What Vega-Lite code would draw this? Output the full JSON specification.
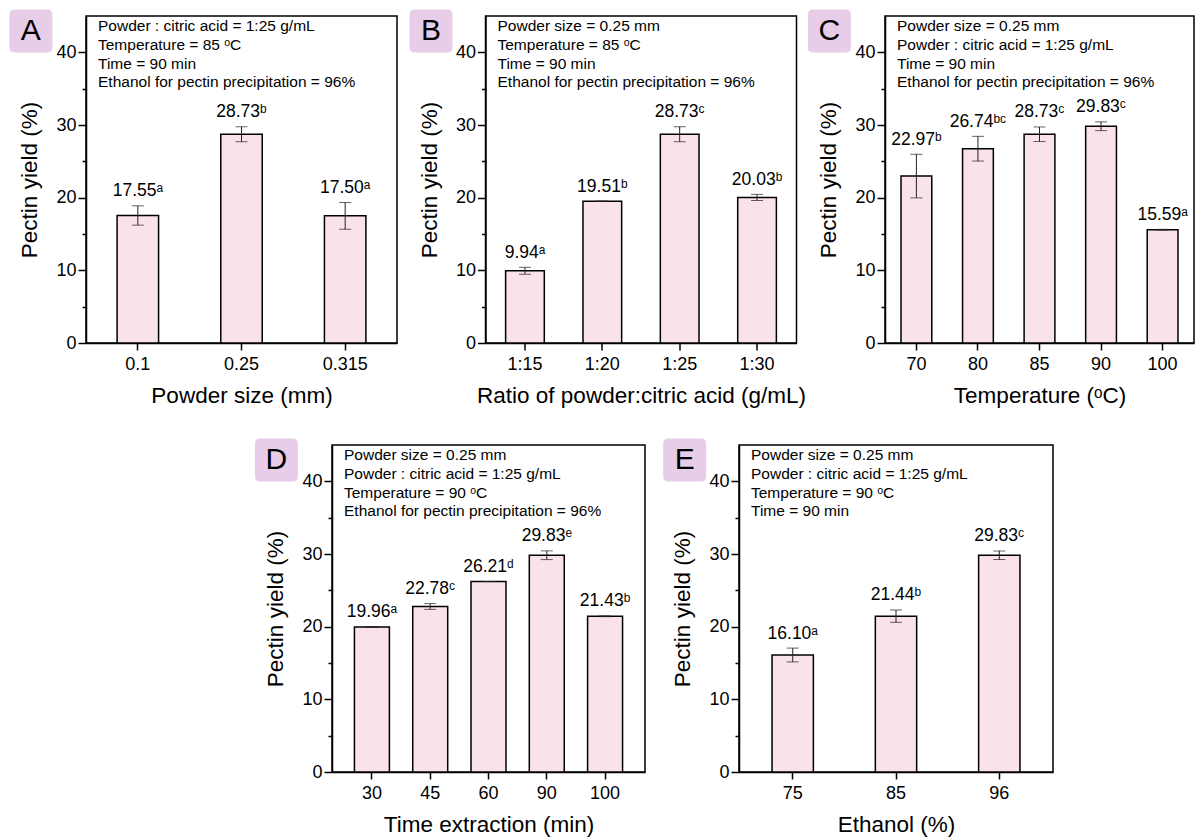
{
  "$schema": "https://vega.github.io/schema/vega-lite/v6.json",
  "background": "white",
  "padding": {"left": 8, "top": 8, "right": 0, "bottom": 0},
  "datasets": {
    "A": [
      {"cat": "0.1", "yield": 17.55, "lo": 16.22, "hi": 18.88, "label": "17.55ᵃ"},
      {"cat": "0.25", "yield": 28.73, "lo": 27.7, "hi": 29.76, "label": "28.73ᵇ"},
      {"cat": "0.315", "yield": 17.5, "lo": 15.65, "hi": 19.35, "label": "17.50ᵃ"}
    ],
    "B": [
      {"cat": "1:15", "yield": 9.94, "lo": 9.46, "hi": 10.42, "label": "9.94ᵃ"},
      {"cat": "1:20", "yield": 19.51, "lo": 19.51, "hi": 19.51, "label": "19.51ᵇ"},
      {"cat": "1:25", "yield": 28.73, "lo": 27.7, "hi": 29.76, "label": "28.73ᶜ"},
      {"cat": "1:30", "yield": 20.03, "lo": 19.61, "hi": 20.45, "label": "20.03ᵇ"}
    ],
    "C": [
      {"cat": "70", "yield": 22.97, "lo": 19.97, "hi": 25.97, "label": "22.97ᵇ"},
      {"cat": "80", "yield": 26.74, "lo": 25.04, "hi": 28.44, "label": "26.74ᵇᶜ"},
      {"cat": "85", "yield": 28.73, "lo": 27.73, "hi": 29.73, "label": "28.73ᶜ"},
      {"cat": "90", "yield": 29.83, "lo": 29.23, "hi": 30.43, "label": "29.83ᶜ"},
      {"cat": "100", "yield": 15.59, "lo": 15.54, "hi": 15.64, "label": "15.59ᵃ"}
    ],
    "D": [
      {"cat": "30", "yield": 19.96, "lo": 19.96, "hi": 19.96, "label": "19.96ᵃ"},
      {"cat": "45", "yield": 22.78, "lo": 22.38, "hi": 23.18, "label": "22.78ᶜ"},
      {"cat": "60", "yield": 26.21, "lo": 26.21, "hi": 26.21, "label": "26.21ᵈ"},
      {"cat": "90", "yield": 29.83, "lo": 29.23, "hi": 30.43, "label": "29.83ᵉ"},
      {"cat": "100", "yield": 21.43, "lo": 21.38, "hi": 21.48, "label": "21.43ᵇ"}
    ],
    "E": [
      {"cat": "75", "yield": 16.1, "lo": 15.15, "hi": 17.05, "label": "16.10ᵃ"},
      {"cat": "85", "yield": 21.44, "lo": 20.6, "hi": 22.3, "label": "21.44ᵇ"},
      {"cat": "96", "yield": 29.83, "lo": 29.23, "hi": 30.43, "label": "29.83ᶜ"}
    ],
    "letters": [{"letter": "A"}, {"letter": "B"}, {"letter": "C"}, {"letter": "D"}, {"letter": "E"}]
  },
  "config": {
    "font": "Liberation Sans",
    "view": {"stroke": "black", "strokeWidth": 1.5},
    "axis": {"domainColor": "black", "domainWidth": 1.5, "tickColor": "black", "tickWidth": 1.5, "labelColor": "black", "titleColor": "black", "labelFontSize": 18, "titleFontSize": 22.5, "titleFontWeight": "normal", "grid": false, "labelFont": "Liberation Sans", "titleFont": "Liberation Sans"},
    "axisX": {"labelAngle": 0, "tickSize": 7, "labelPadding": 5, "titlePadding": 11},
    "axisY": {"titlePadding": 14, "labelPadding": 2},
    "title": {"anchor": "start", "frame": "group", "offset": -81.4, "dx": 12, "baseline": "top", "fontSize": 15.5, "fontWeight": "normal", "lineHeight": 18.7, "font": "Liberation Sans", "color": "black"},
    "text": {"font": "Liberation Sans", "color": "black"}
  },
  "bounds": "flush",
  "spacing": 429,
  "vconcat": [
    {
      "bounds": "flush",
      "spacing": 88.5,
      "hconcat": [
        {
          "width": 311, "height": 327,
          "title": {"text": ["Powder : citric acid = 1:25 g/mL", "Temperature = 85 ᵒC", "Time = 90 min", "Ethanol for pectin precipitation = 96%"]},
          "data": {"name": "A"},
          "encoding": {"x": {"field": "cat", "type": "nominal", "title": "Powder size (mm)", "scale": {"domain": ["0.1", "0.25", "0.315"], "paddingInner": 0.6, "paddingOuter": 0.3}}},
          "layer": [
            {"mark": {"type": "bar", "fill": "#fae2ea", "stroke": "black", "strokeWidth": 1.5}, "encoding": {"y": {"field": "yield", "type": "quantitative", "title": "Pectin yield (%)", "scale": {"domain": [0, 45], "nice": false}, "axis": {"values": [0, 5, 10, 15, 20, 25, 30, 35, 40], "labelExpr": "datum.value % 10 === 0 ? datum.label : ''", "tickSize": {"condition": {"test": "datum.value % 10 === 0", "value": 8}, "value": 4}}}}},
            {"mark": {"type": "rule", "color": "#222", "strokeWidth": 1}, "encoding": {"y": {"field": "lo", "type": "quantitative", "title": "Pectin yield (%)"}, "y2": {"field": "hi"}}},
            {"mark": {"type": "tick", "color": "#222", "size": 12, "thickness": 1}, "encoding": {"y": {"field": "hi", "type": "quantitative", "title": "Pectin yield (%)"}}},
            {"mark": {"type": "tick", "color": "#222", "size": 12, "thickness": 1}, "encoding": {"y": {"field": "lo", "type": "quantitative", "title": "Pectin yield (%)"}}},
            {"mark": {"type": "text", "dy": -9.5, "baseline": "alphabetic", "fontSize": 17.5}, "encoding": {"y": {"field": "hi", "type": "quantitative", "title": "Pectin yield (%)"}, "text": {"field": "label"}}},
            {"data": {"name": "letters"}, "transform": [{"filter": "datum.letter === 'A'"}], "mark": {"type": "point", "shape": "M -1 -0.75 Q -1 -1 -0.75 -1 L 0.75 -1 Q 1 -1 1 -0.75 L 1 0.75 Q 1 1 0.75 1 L -0.75 1 Q -1 1 -1 0.75 Z", "size": 1849, "filled": true, "fill": "#e8cde8", "opacity": 1, "strokeWidth": 0, "xOffset": -107, "yOffset": 15, "clip": false}, "encoding": {"x": {"datum": "0.1", "title": "Powder size (mm)"}, "y": {"datum": 45, "title": "Pectin yield (%)"}}},
            {"data": {"name": "letters"}, "transform": [{"filter": "datum.letter === 'A'"}], "mark": {"type": "text", "fontSize": 30, "xOffset": -107, "yOffset": 15, "baseline": "middle", "align": "center"}, "encoding": {"x": {"datum": "0.1", "title": "Powder size (mm)"}, "y": {"datum": 45, "title": "Pectin yield (%)"}, "text": {"field": "letter"}}}
          ]
        },
        {
          "width": 311, "height": 327,
          "title": {"text": ["Powder size = 0.25 mm", "Temperature = 85 ᵒC", "Time = 90 min", "Ethanol for pectin precipitation = 96%"]},
          "data": {"name": "B"},
          "encoding": {"x": {"field": "cat", "type": "nominal", "title": "Ratio of powder:citric acid (g/mL)", "scale": {"domain": ["1:15", "1:20", "1:25", "1:30"], "paddingInner": 0.5, "paddingOuter": 0.26}}},
          "layer": [
            {"mark": {"type": "bar", "fill": "#fae2ea", "stroke": "black", "strokeWidth": 1.5}, "encoding": {"y": {"field": "yield", "type": "quantitative", "title": "Pectin yield (%)", "scale": {"domain": [0, 45], "nice": false}, "axis": {"values": [0, 5, 10, 15, 20, 25, 30, 35, 40], "labelExpr": "datum.value % 10 === 0 ? datum.label : ''", "tickSize": {"condition": {"test": "datum.value % 10 === 0", "value": 8}, "value": 4}}}}},
            {"mark": {"type": "rule", "color": "#222", "strokeWidth": 1}, "encoding": {"y": {"field": "lo", "type": "quantitative", "title": "Pectin yield (%)"}, "y2": {"field": "hi"}}},
            {"mark": {"type": "tick", "color": "#222", "size": 12, "thickness": 1}, "encoding": {"y": {"field": "hi", "type": "quantitative", "title": "Pectin yield (%)"}}},
            {"mark": {"type": "tick", "color": "#222", "size": 12, "thickness": 1}, "encoding": {"y": {"field": "lo", "type": "quantitative", "title": "Pectin yield (%)"}}},
            {"mark": {"type": "text", "dy": -9.5, "baseline": "alphabetic", "fontSize": 17.5}, "encoding": {"y": {"field": "hi", "type": "quantitative", "title": "Pectin yield (%)"}, "text": {"field": "label"}}},
            {"data": {"name": "letters"}, "transform": [{"filter": "datum.letter === 'B'"}], "mark": {"type": "point", "shape": "M -1 -0.75 Q -1 -1 -0.75 -1 L 0.75 -1 Q 1 -1 1 -0.75 L 1 0.75 Q 1 1 0.75 1 L -0.75 1 Q -1 1 -1 0.75 Z", "size": 1849, "filled": true, "fill": "#e8cde8", "opacity": 1, "strokeWidth": 0, "xOffset": -94, "yOffset": 15, "clip": false}, "encoding": {"x": {"datum": "1:15", "title": "Ratio of powder:citric acid (g/mL)"}, "y": {"datum": 45, "title": "Pectin yield (%)"}}},
            {"data": {"name": "letters"}, "transform": [{"filter": "datum.letter === 'B'"}], "mark": {"type": "text", "fontSize": 30, "xOffset": -94, "yOffset": 15, "baseline": "middle", "align": "center"}, "encoding": {"x": {"datum": "1:15", "title": "Ratio of powder:citric acid (g/mL)"}, "y": {"datum": 45, "title": "Pectin yield (%)"}, "text": {"field": "letter"}}}
          ]
        },
        {
          "width": 309, "height": 327,
          "title": {"text": ["Powder size = 0.25 mm", "Powder : citric acid = 1:25 g/mL", "Time = 90 min", "Ethanol for pectin precipitation = 96%"]},
          "data": {"name": "C"},
          "encoding": {"x": {"field": "cat", "type": "nominal", "title": "Temperature (ᵒC)", "scale": {"domain": ["70", "80", "85", "90", "100"], "paddingInner": 0.5, "paddingOuter": 0.26}}},
          "layer": [
            {"mark": {"type": "bar", "fill": "#fae2ea", "stroke": "black", "strokeWidth": 1.5}, "encoding": {"y": {"field": "yield", "type": "quantitative", "title": "Pectin yield (%)", "scale": {"domain": [0, 45], "nice": false}, "axis": {"values": [0, 5, 10, 15, 20, 25, 30, 35, 40], "labelExpr": "datum.value % 10 === 0 ? datum.label : ''", "tickSize": {"condition": {"test": "datum.value % 10 === 0", "value": 8}, "value": 4}}}}},
            {"mark": {"type": "rule", "color": "#222", "strokeWidth": 1}, "encoding": {"y": {"field": "lo", "type": "quantitative", "title": "Pectin yield (%)"}, "y2": {"field": "hi"}}},
            {"mark": {"type": "tick", "color": "#222", "size": 12, "thickness": 1}, "encoding": {"y": {"field": "hi", "type": "quantitative", "title": "Pectin yield (%)"}}},
            {"mark": {"type": "tick", "color": "#222", "size": 12, "thickness": 1}, "encoding": {"y": {"field": "lo", "type": "quantitative", "title": "Pectin yield (%)"}}},
            {"mark": {"type": "text", "dy": -9.5, "baseline": "alphabetic", "fontSize": 17.5}, "encoding": {"y": {"field": "hi", "type": "quantitative", "title": "Pectin yield (%)"}, "text": {"field": "label"}}},
            {"data": {"name": "letters"}, "transform": [{"filter": "datum.letter === 'C'"}], "mark": {"type": "point", "shape": "M -1 -0.75 Q -1 -1 -0.75 -1 L 0.75 -1 Q 1 -1 1 -0.75 L 1 0.75 Q 1 1 0.75 1 L -0.75 1 Q -1 1 -1 0.75 Z", "size": 1849, "filled": true, "fill": "#e8cde8", "opacity": 1, "strokeWidth": 0, "xOffset": -87, "yOffset": 15, "clip": false}, "encoding": {"x": {"datum": "70", "title": "Temperature (ᵒC)"}, "y": {"datum": 45, "title": "Pectin yield (%)"}}},
            {"data": {"name": "letters"}, "transform": [{"filter": "datum.letter === 'C'"}], "mark": {"type": "text", "fontSize": 30, "xOffset": -87, "yOffset": 15, "baseline": "middle", "align": "center"}, "encoding": {"x": {"datum": "70", "title": "Temperature (ᵒC)"}, "y": {"datum": 45, "title": "Pectin yield (%)"}, "text": {"field": "letter"}}}
          ]
        }
      ]
    },
    {
      "bounds": "flush",
      "spacing": 94,
      "hconcat": [
        {"width": 152, "height": 327, "data": {"values": [{}]}, "mark": {"type": "point", "opacity": 0}, "encoding": {}, "view": {"stroke": null}},
        {
          "width": 313, "height": 327,
          "title": {"text": ["Powder size = 0.25 mm", "Powder : citric acid = 1:25 g/mL", "Temperature = 90 ᵒC", "Ethanol for pectin precipitation = 96%"]},
          "data": {"name": "D"},
          "encoding": {"x": {"field": "cat", "type": "nominal", "title": "Time extraction (min)", "scale": {"domain": ["30", "45", "60", "90", "100"], "paddingInner": 0.4, "paddingOuter": 0.385}}},
          "layer": [
            {"mark": {"type": "bar", "fill": "#fae2ea", "stroke": "black", "strokeWidth": 1.5}, "encoding": {"y": {"field": "yield", "type": "quantitative", "title": "Pectin yield (%)", "scale": {"domain": [0, 45], "nice": false}, "axis": {"values": [0, 5, 10, 15, 20, 25, 30, 35, 40], "labelExpr": "datum.value % 10 === 0 ? datum.label : ''", "tickSize": {"condition": {"test": "datum.value % 10 === 0", "value": 8}, "value": 4}}}}},
            {"mark": {"type": "rule", "color": "#222", "strokeWidth": 1}, "encoding": {"y": {"field": "lo", "type": "quantitative", "title": "Pectin yield (%)"}, "y2": {"field": "hi"}}},
            {"mark": {"type": "tick", "color": "#222", "size": 12, "thickness": 1}, "encoding": {"y": {"field": "hi", "type": "quantitative", "title": "Pectin yield (%)"}}},
            {"mark": {"type": "tick", "color": "#222", "size": 12, "thickness": 1}, "encoding": {"y": {"field": "lo", "type": "quantitative", "title": "Pectin yield (%)"}}},
            {"mark": {"type": "text", "dy": -9.5, "baseline": "alphabetic", "fontSize": 17.5}, "encoding": {"y": {"field": "hi", "type": "quantitative", "title": "Pectin yield (%)"}, "text": {"field": "label"}}},
            {"data": {"name": "letters"}, "transform": [{"filter": "datum.letter === 'D'"}], "mark": {"type": "point", "shape": "M -1 -0.75 Q -1 -1 -0.75 -1 L 0.75 -1 Q 1 -1 1 -0.75 L 1 0.75 Q 1 1 0.75 1 L -0.75 1 Q -1 1 -1 0.75 Z", "size": 1849, "filled": true, "fill": "#e8cde8", "opacity": 1, "strokeWidth": 0, "xOffset": -95.5, "yOffset": 15, "clip": false}, "encoding": {"x": {"datum": "30", "title": "Time extraction (min)"}, "y": {"datum": 45, "title": "Pectin yield (%)"}}},
            {"data": {"name": "letters"}, "transform": [{"filter": "datum.letter === 'D'"}], "mark": {"type": "text", "fontSize": 30, "xOffset": -95.5, "yOffset": 15, "baseline": "middle", "align": "center"}, "encoding": {"x": {"datum": "30", "title": "Time extraction (min)"}, "y": {"datum": 45, "title": "Pectin yield (%)"}, "text": {"field": "letter"}}}
          ]
        },
        {
          "width": 314, "height": 327,
          "title": {"text": ["Powder size = 0.25 mm", "Powder : citric acid = 1:25 g/mL", "Temperature = 90 ᵒC", "Time = 90 min"]},
          "data": {"name": "E"},
          "encoding": {"x": {"field": "cat", "type": "nominal", "title": "Ethanol (%)", "scale": {"domain": ["75", "85", "96"], "paddingInner": 0.6, "paddingOuter": 0.32}}},
          "layer": [
            {"mark": {"type": "bar", "fill": "#fae2ea", "stroke": "black", "strokeWidth": 1.5}, "encoding": {"y": {"field": "yield", "type": "quantitative", "title": "Pectin yield (%)", "scale": {"domain": [0, 45], "nice": false}, "axis": {"values": [0, 5, 10, 15, 20, 25, 30, 35, 40], "labelExpr": "datum.value % 10 === 0 ? datum.label : ''", "tickSize": {"condition": {"test": "datum.value % 10 === 0", "value": 8}, "value": 4}}}}},
            {"mark": {"type": "rule", "color": "#222", "strokeWidth": 1}, "encoding": {"y": {"field": "lo", "type": "quantitative", "title": "Pectin yield (%)"}, "y2": {"field": "hi"}}},
            {"mark": {"type": "tick", "color": "#222", "size": 12, "thickness": 1}, "encoding": {"y": {"field": "hi", "type": "quantitative", "title": "Pectin yield (%)"}}},
            {"mark": {"type": "tick", "color": "#222", "size": 12, "thickness": 1}, "encoding": {"y": {"field": "lo", "type": "quantitative", "title": "Pectin yield (%)"}}},
            {"mark": {"type": "text", "dy": -9.5, "baseline": "alphabetic", "fontSize": 17.5}, "encoding": {"y": {"field": "hi", "type": "quantitative", "title": "Pectin yield (%)"}, "text": {"field": "label"}}},
            {"data": {"name": "letters"}, "transform": [{"filter": "datum.letter === 'E'"}], "mark": {"type": "point", "shape": "M -1 -0.75 Q -1 -1 -0.75 -1 L 0.75 -1 Q 1 -1 1 -0.75 L 1 0.75 Q 1 1 0.75 1 L -0.75 1 Q -1 1 -1 0.75 Z", "size": 1849, "filled": true, "fill": "#e8cde8", "opacity": 1, "strokeWidth": 0, "xOffset": -108, "yOffset": 15, "clip": false}, "encoding": {"x": {"datum": "75", "title": "Ethanol (%)"}, "y": {"datum": 45, "title": "Pectin yield (%)"}}},
            {"data": {"name": "letters"}, "transform": [{"filter": "datum.letter === 'E'"}], "mark": {"type": "text", "fontSize": 30, "xOffset": -108, "yOffset": 15, "baseline": "middle", "align": "center"}, "encoding": {"x": {"datum": "75", "title": "Ethanol (%)"}, "y": {"datum": 45, "title": "Pectin yield (%)"}, "text": {"field": "letter"}}}
          ]
        }
      ]
    }
  ]
}
